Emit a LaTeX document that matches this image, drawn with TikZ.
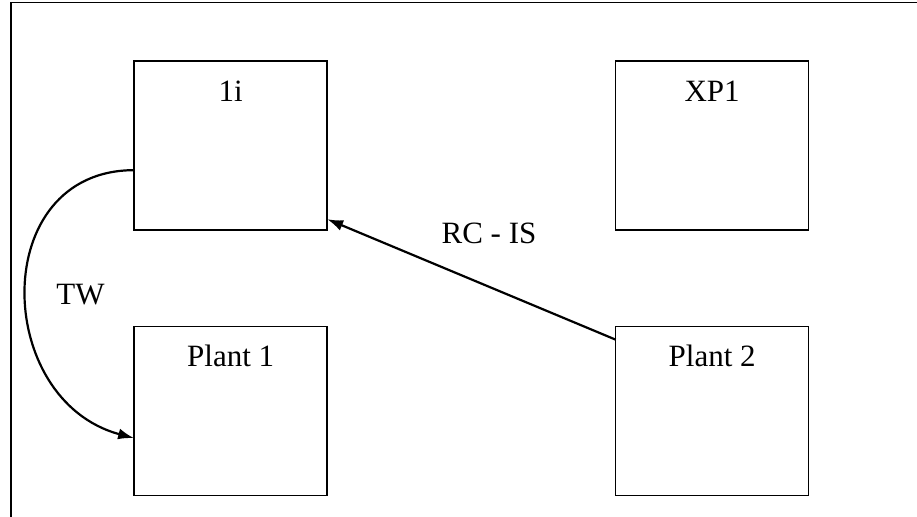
\documentclass[tikz,border=0pt]{standalone}
\usepackage{fontspec}
\setmainfont{Liberation Serif}
\usepackage{tikz}
\usetikzlibrary{matrix}
\usetikzlibrary{arrows.meta}
\tikzset{plantbox/.style={rectangle, draw, line width=0.75pt, inner sep=0pt, outer sep=0pt,
   minimum width=96.5pt, text height=20pt, text depth=64.5pt}}
\tikzset{link/.style={line width=1.1pt, -{Latex[length=8pt, width=5.5pt]}}}
\tikzset{ng/.style = {
   matrix of nodes,
   nodes={plantbox},
   column sep=143.5pt,
   row sep=47.5pt,
   inner sep=0pt
}}

\begin{document}
\begin{tikzpicture}[x=0.5pt, y=-0.5pt, font=\fontsize{15.5pt}{18pt}\selectfont]

    \useasboundingbox (0,0) rectangle (917,516);
    \clip (0,0) rectangle (917,516);
    \draw[line width=0.75pt] (11,2.5) rectangle (940,540);

    \matrix[ng, anchor=north west] (m) at (133,60) {
      |(one)| 1i       & |(xp)| XP1       \\
      |(pone)| Plant 1 & |(ptwo)| Plant 2 \\
    };

    \draw[link] ([yshift=-12.25pt]one.west) to[out=180, in=165, looseness=1.4] ([yshift=-13.5pt]pone.west);
    \node (tw) at (80.5,294.5) {TW};

    \draw[link] ([yshift=-6.5pt]ptwo.north west) -- ([yshift=5.5pt]one.south east);
    \node (rcis) at (489,233) {RC - IS};

  \end{tikzpicture}
\end{document}
